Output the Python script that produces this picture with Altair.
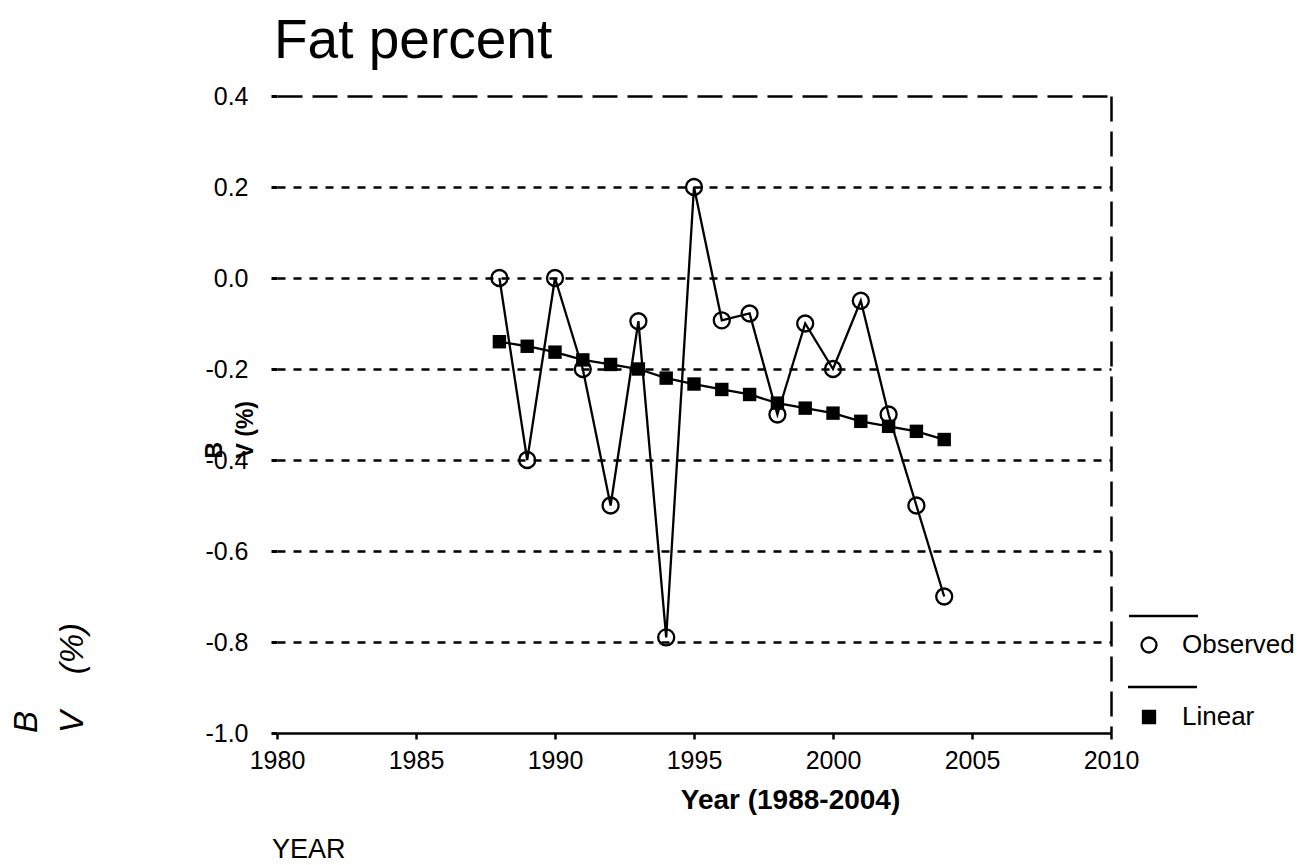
import altair as alt
import pandas as pd

# ---- data ----
years = [1988, 1989, 1990, 1991, 1992, 1993, 1994, 1995, 1996,
         1997, 1998, 1999, 2000, 2001, 2002, 2003, 2004]
observed = [0.0, -0.4, 0.0, -0.2, -0.5, -0.095, -0.79, 0.2, -0.093,
            -0.078, -0.3, -0.1, -0.2, -0.05, -0.3, -0.5, -0.7]
linear = [-0.14, -0.15, -0.163, -0.18, -0.19, -0.2, -0.22, -0.233, -0.245,
          -0.256, -0.275, -0.286, -0.297, -0.315, -0.326, -0.337, -0.355]
series_names = ["Observed", "Linear"]
y_ticks = [-1.0, -0.8, -0.6, -0.4, -0.2, 0.0, 0.2, 0.4]
x_ticks = [1980, 1985, 1990, 1995, 2000, 2005, 2010]
title_text = "Fat percent"
x_title = "Year (1988-2004)"
y_title_lines = ["B", "V (%)"]
side_label_lines = ["B", "V\u00a0\u00a0\u00a0\u00a0(%)"]
bottom_label = "YEAR"

FONT = "Liberation Sans"

obs_df = pd.DataFrame({"year": years, "value": observed, "series": series_names[0]})
lin_df = pd.DataFrame({"year": years, "value": linear, "series": series_names[1]})

x_enc = alt.X(
    "year:Q",
    scale=alt.Scale(domain=[x_ticks[0], x_ticks[-1]], nice=False, zero=False),
    axis=alt.Axis(
        values=x_ticks, format="d", title=x_title,
        labelFont=FONT, labelFontSize=25, labelColor="black", labelPadding=9,
        labelFlush=False, labelOverlap=False,
        domain=True, domainColor="black", domainWidth=2.5,
        ticks=True, tickColor="black", tickWidth=2.5, tickSize=6,
        grid=True, gridColor="black", gridWidth=2.5, gridDash=[25, 10],
        gridOpacity=alt.condition("datum.value == 2010", alt.value(1), alt.value(0)),
        titleFont=FONT, titleFontSize=28, titleFontWeight="bold", titleColor="black",
        titleX=513, titleY=75, titleAlign="center", titleBaseline="alphabetic",
    ),
)
y_enc = alt.Y(
    "value:Q",
    scale=alt.Scale(domain=[y_ticks[0], y_ticks[-1]], nice=False, zero=False),
    axis=alt.Axis(
        values=y_ticks,
        labelExpr="(datum.value < 0 ? '-' : '') + format(abs(datum.value), '.1f')",
        labelFont=FONT, labelFontSize=25, labelColor="black", labelPadding=23,
        labelFlush=False, labelOverlap=False,
        domain=False,
        ticks=True, tickColor="black", tickWidth=3, tickSize=6,
        grid=True, gridColor="black", gridWidth=2.5,
        gridDash=alt.condition("datum.value > 0.3", alt.value([25, 10]), alt.value([8, 8])),
        gridOpacity=alt.condition("datum.value < -0.9", alt.value(0), alt.value(1)),
        title=y_title_lines, titleFont=FONT, titleFontSize=23, titleFontWeight="bold",
        titleColor="black", titleAngle=270, titleX=-63, titleY=362,
        titleAlign="left", titleBaseline="middle", titleLineHeight=31,
    ),
)

obs_line = alt.Chart(obs_df).mark_line(color="black", strokeWidth=2.3).encode(x=x_enc, y=y_enc)
lin_line = alt.Chart(lin_df).mark_line(color="black", strokeWidth=2.3).encode(x=x_enc, y=y_enc)
obs_pts = alt.Chart(obs_df).mark_point(
    shape="circle", size=256, filled=False, color="black", strokeWidth=2.3, opacity=1
).encode(x=x_enc, y=y_enc)
lin_pts = alt.Chart(lin_df).mark_point(
    shape="square", size=180, filled=True, color="black", opacity=1
).encode(x=x_enc, y=y_enc)

# legend: symbol paths contain the short rule drawn above each entry
path_obs = "M-2.67,-3.87H6.53M1,0A1,1,0,1,1,-1,0A1,1,0,1,1,1,0Z"
path_lin = "M-2.8,-4H6.4M-0.8,-0.8H0.8V0.8H-0.8Z"
leg = dict(title=None, orient="none", legendX=859, legendY=536, symbolSize=225,
           labelFont=FONT, labelFontSize=26, labelColor="black", rowPadding=24,
           labelOffset=20, padding=0, symbolStrokeWidth=2.3)
legend_layer = alt.Chart(pd.concat([obs_df, lin_df])).mark_point(
    filled=True, strokeWidth=2.3, opacity=1
).encode(
    shape=alt.Shape("series:N", scale=alt.Scale(domain=series_names, range=[path_obs, path_lin]),
                    legend=alt.Legend(**leg)),
    fill=alt.Fill("series:N", scale=alt.Scale(domain=series_names, range=["transparent", "black"]),
                  legend=alt.Legend(**leg)),
    stroke=alt.Stroke("series:N", scale=alt.Scale(domain=series_names, range=["black", "black"]),
                      legend=alt.Legend(**leg)),
).transform_filter("false")

one = pd.DataFrame({"a": [0]})
title_mark = alt.Chart(one).mark_text(
    text=title_text, font=FONT, fontSize=55, color="black", align="left", baseline="alphabetic",
).encode(x=alt.value(-3), y=alt.value(-38))
side_text = alt.Chart(one).mark_text(
    text=side_label_lines, font=FONT, fontSize=33, fontStyle="italic", color="black",
    angle=270, align="left", baseline="middle", lineHeight=46,
).encode(x=alt.value(-250), y=alt.value(637))
year_text = alt.Chart(one).mark_text(
    text=bottom_label, font=FONT, fontSize=27, color="black", align="left", baseline="alphabetic",
).encode(x=alt.value(-5), y=alt.value(762))

chart = alt.layer(
    obs_line, lin_line, obs_pts, lin_pts, legend_layer, title_mark, side_text, year_text
).properties(
    width=834, height=637,
    autosize=alt.AutoSizeParams(type="none"),
    padding={"left": 269, "top": 88, "right": 192, "bottom": 132},
).configure_view(stroke=None)

chart.save("out.html", embed_options={"renderer": "svg", "actions": False})
